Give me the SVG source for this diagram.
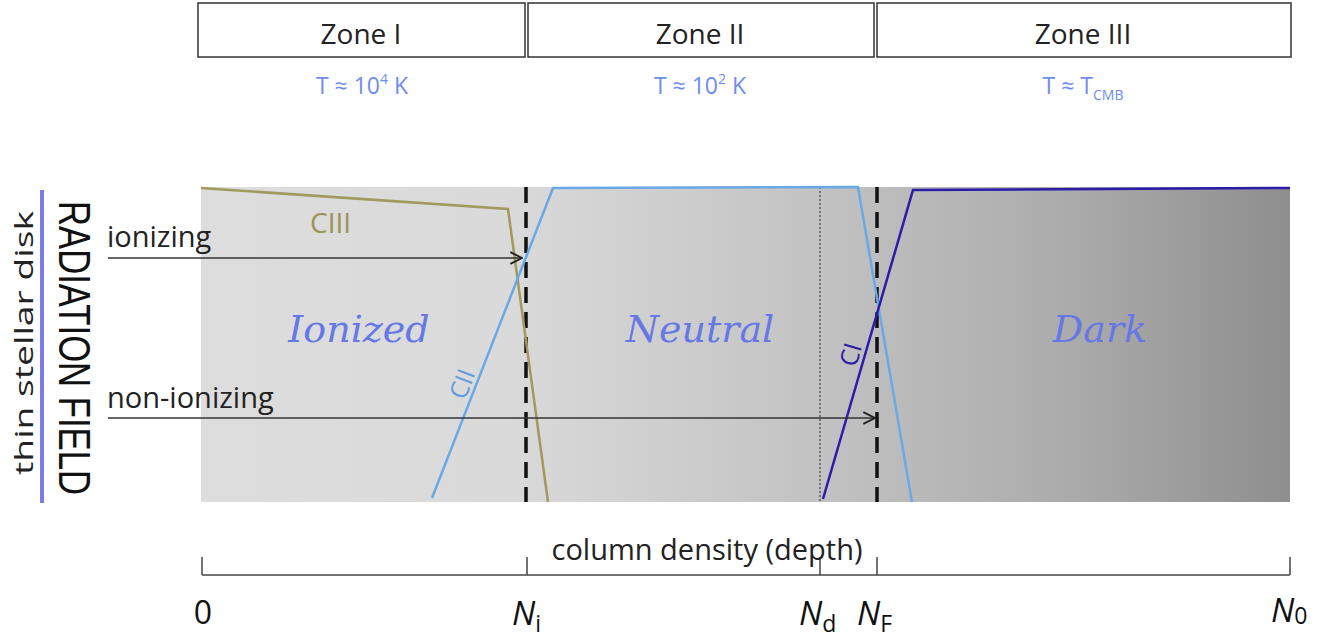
<svg xmlns="http://www.w3.org/2000/svg" width="1333" height="644" viewBox="0 0 1333 644">
<defs>
<linearGradient id="bg" x1="0" y1="0" x2="1" y2="0">
<stop offset="0" stop-color="#dddddd"/>
<stop offset="0.28" stop-color="#dadada"/>
<stop offset="0.55" stop-color="#c4c4c4"/>
<stop offset="0.8" stop-color="#ababab"/>
<stop offset="1" stop-color="#8e8e8e"/>
</linearGradient>
<marker id="arr2" viewBox="0 0 12 12" refX="11" refY="6" markerWidth="14" markerHeight="14" markerUnits="userSpaceOnUse" orient="auto">
<path d="M1,1 L11,6 L1,11" fill="none" stroke="#222" stroke-width="1.6"/>
</marker>
</defs>
<style>
.box{fill:#fff;stroke:#333;stroke-width:1.5}
.zt{font-family:"Open Sans","Liberation Sans",sans-serif;font-size:28px;fill:#222;text-anchor:middle}
.tt{font-family:"Open Sans","Liberation Sans",sans-serif;font-size:23px;fill:#6f8cf0;text-anchor:middle}
.lbl{font-family:"Open Sans","Liberation Sans",sans-serif;font-size:29px;fill:#222}
.reg{font-family:"DejaVu Serif","Liberation Serif",serif;font-style:italic;font-size:38px;fill:#6678e6;text-anchor:middle}
.ax{font-family:"Open Sans","Liberation Sans",sans-serif;font-size:32px;fill:#111;text-anchor:middle}
.axi{font-family:"Open Sans","Liberation Sans",sans-serif;font-size:33px;font-style:italic;fill:#111}
.sub{font-family:"Open Sans","Liberation Sans",sans-serif;font-size:23px;fill:#111}
.dash{stroke:#111;stroke-width:3.5;stroke-dasharray:16,9;fill:none}
.cl{font-family:"Open Sans","Liberation Sans",sans-serif;stroke:none}
</style>
<rect width="1333" height="644" fill="#fff"/>

<g id="zone1"><rect class="box" x="198" y="3" width="327" height="54"/><text class="zt" x="361" y="44">Zone I</text><text class="tt" x="362" y="94">T ≈ 10<tspan font-size="14" dy="-10">4</tspan><tspan dy="10"> K</tspan></text></g>
<g id="zone2"><rect class="box" x="528" y="3" width="346" height="54"/><text class="zt" x="700" y="44">Zone II</text><text class="tt" x="700" y="94">T ≈ 10<tspan font-size="14" dy="-10">2</tspan><tspan dy="10"> K</tspan></text></g>
<g id="zone3"><rect class="box" x="877" y="3" width="414" height="54"/><text class="zt" x="1083" y="44">Zone III</text><text class="tt" x="1083" y="94">T ≈ T<tspan font-size="14" dy="6">CMB</tspan></text></g>

<g id="slab">
<rect x="201" y="187" width="1089" height="315" fill="url(#bg)"/>
<text class="reg" x="359" y="342">Ionized</text>
<text class="reg" x="700" y="342">Neutral</text>
<text class="reg" x="1100" y="342">Dark</text>
</g>

<g id="boundaries">
<line class="dash" x1="526" y1="187" x2="526" y2="502"/>
<line class="dash" x1="877" y1="187" x2="877" y2="502"/>
<line x1="820" y1="187" x2="820" y2="502" stroke="#222" stroke-width="1" stroke-dasharray="2,2"/>
</g>

<g id="curves" fill="none" stroke-width="2.5">
<polyline points="201,188 508,209 548,502" stroke="#a09a5e"/>
<polyline points="432,498 553,188 858,187 912,502" stroke="#6aa8e6"/>
<polyline points="823,499 913,190 1290,188" stroke="#2c1ca8"/>
<text class="cl" x="310" y="233" font-size="28" fill="#9a945a">CIII</text>
<text class="cl" transform="translate(465,401) rotate(-69)" font-size="25" fill="#5f9de0">CII</text>
<text class="cl" transform="translate(856,368) rotate(-74)" font-size="25" fill="#2c1ca8">CI</text>
</g>

<g id="connectors">
<line x1="108" y1="258" x2="522" y2="258" stroke="#333" stroke-width="1.5" marker-end="url(#arr2)"/>
<line x1="108" y1="418" x2="875" y2="418" stroke="#333" stroke-width="1.5" marker-end="url(#arr2)"/>
</g>

<g id="radiation">
<line x1="42" y1="190" x2="42" y2="503" stroke="#7b7bea" stroke-width="4"/>
<text class="lbl" x="107" y="247">ionizing</text>
<text class="lbl" x="107" y="408">non-ionizing</text>
<text transform="translate(59,348) rotate(90)" font-family="Liberation Sans, Arial, sans-serif" font-size="44" fill="#111" text-anchor="middle" textLength="294" lengthAdjust="spacingAndGlyphs">RADIATION FIELD</text>
<text transform="translate(33,343) rotate(-90)" font-family="Open Sans, Liberation Sans, sans-serif" font-size="26" fill="#222" text-anchor="middle" textLength="264" lengthAdjust="spacingAndGlyphs">thin stellar disk</text>
</g>

<g id="axis" stroke="#444" stroke-width="1.5" fill="none">
<line x1="202" y1="575" x2="1290" y2="575"/>
<line x1="202" y1="557" x2="202" y2="575"/>
<line x1="527" y1="557" x2="527" y2="575"/>
<line x1="820" y1="557" x2="820" y2="575"/>
<line x1="877" y1="557" x2="877" y2="575"/>
<line x1="1290" y1="557" x2="1290" y2="575"/>
</g>
<g id="axislabels">
<text class="lbl" x="707" y="560" text-anchor="middle" font-size="29">column density (depth)</text>
<text class="ax" x="203" y="624">0</text>
<text class="axi" x="512" y="625">N<tspan class="sub" font-style="normal" dy="7">i</tspan></text>
<text class="axi" x="799" y="625">N<tspan class="sub" font-style="normal" dy="7">d</tspan></text>
<text class="axi" x="857" y="625">N<tspan class="sub" font-style="normal" dy="7">F</tspan></text>
<text class="axi" x="1271" y="622">N<tspan class="sub" font-style="normal" font-size="30" dy="2">0</tspan></text>
</g>
</svg>
